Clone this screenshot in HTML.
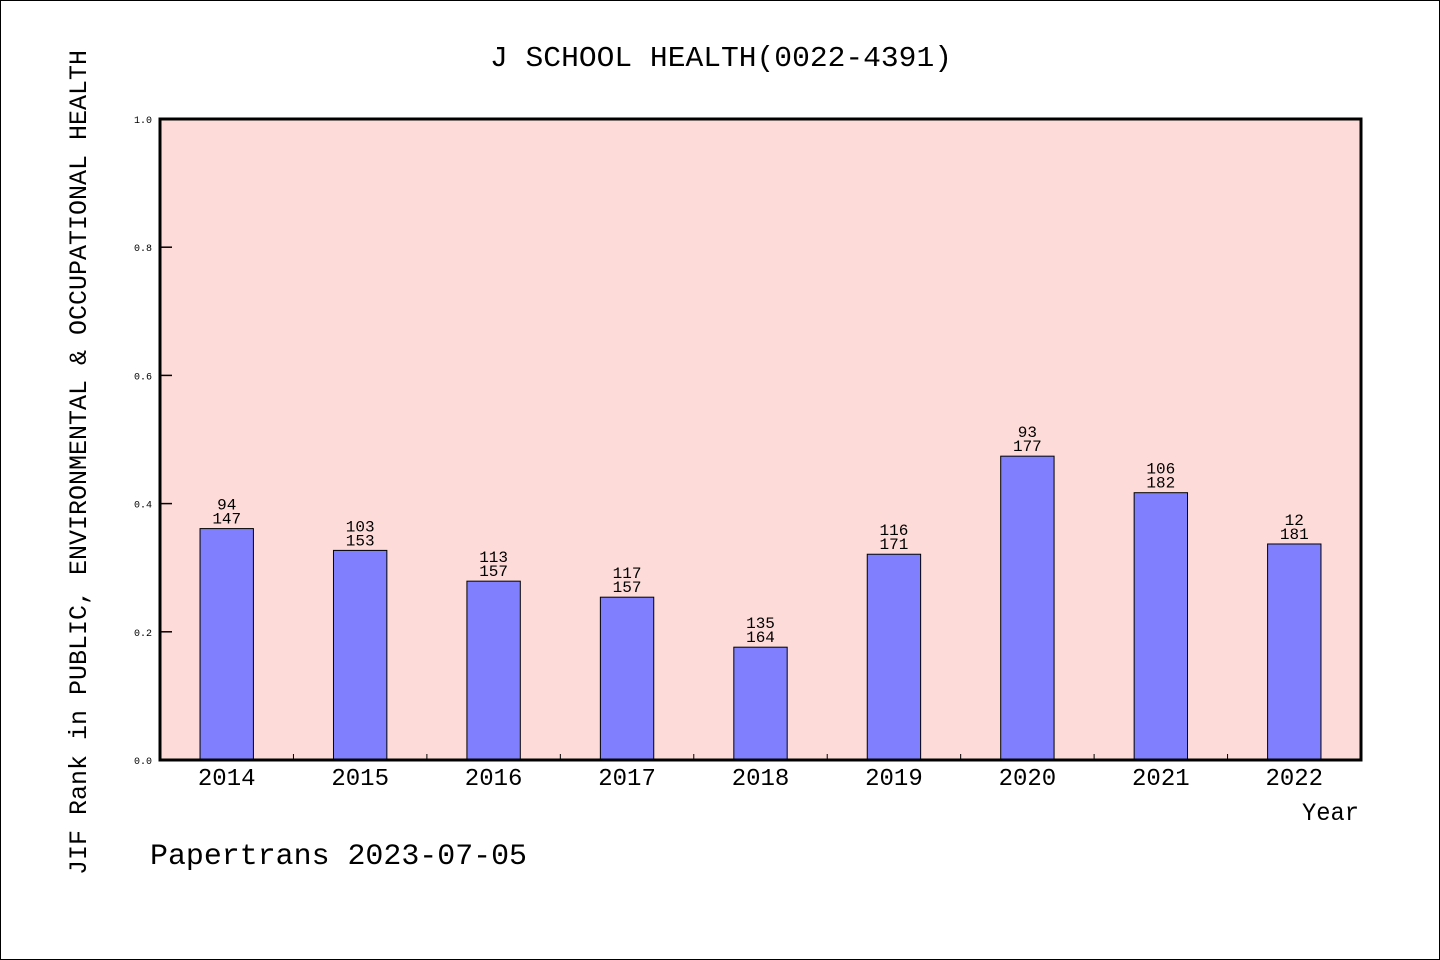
<!DOCTYPE html>
<html><head><meta charset="utf-8"><style>
html,body{margin:0;padding:0;background:#fff}
svg{display:block}
text{font-family:"Liberation Mono","WenQuanYi Zen Hei",monospace;fill:#000}
</style></head><body>
<svg id="chart" width="1440" height="960">
<rect x="0.5" y="0.5" width="1439" height="959" fill="#fff" stroke="#000"/>
<text x="490" y="66" font-size="29" textLength="462" lengthAdjust="spacingAndGlyphs">J SCHOOL HEALTH(0022-4391)</text>
<rect x="160" y="119" width="1201" height="641" fill="#fddbd8"/>
<g id="marks"></g>
<rect x="160" y="119" width="1201" height="641" fill="none" stroke="#000" stroke-width="3"/>
<text transform="translate(86,875) rotate(-90)" font-size="25" textLength="825" lengthAdjust="spacingAndGlyphs">JIF Rank in PUBLIC, ENVIRONMENTAL &amp; OCCUPATIONAL HEALTH</text>
<text x="1302" y="820" font-size="25" textLength="57" lengthAdjust="spacingAndGlyphs">Year</text>
<text x="150" y="864" font-size="30" textLength="377" lengthAdjust="spacingAndGlyphs">Papertrans 2023-07-05</text>
</svg>
<script>
const years=["2014","2015","2016","2017","2018","2019","2020","2021","2022"];
const values=[0.361,0.327,0.279,0.254,0.176,0.321,0.474,0.417,0.337];
const ranks=["94","103","113","117","135","116","93","106","12"];
const totals=["147","153","157","157","164","171","177","182","181"];
const yTicks=[0,0.2,0.4,0.6,0.8,1.0];
const X0=160,X1=1361,Y0=760,Y1=119;
const band=(X1-X0)/years.length;
const xc=i=>X0+band*(i+0.5);
const y=v=>Y0-(Y0-Y1)*v;
const NS="http://www.w3.org/2000/svg";
const g=document.getElementById('marks');
function mk(t,a){const e=document.createElementNS(NS,t);for(const k in a)e.setAttribute(k,a[k]);g.appendChild(e);return e;}
yTicks.forEach(v=>{
  const l=mk('line',{x1:X0,x2:X0+12,y1:y(v),y2:y(v),stroke:'#000','stroke-width':1.5});
  
  
  const t=mk('text',{x:152,y:y(v)+4,'font-size':10,'text-anchor':'end'});
  t.textContent=v.toFixed(1);
  
  
});
for(let i=1;i<years.length;i++){
  const l=mk('line',{x1:X0+band*i,x2:X0+band*i,y1:Y0,y2:Y0-6,stroke:'#000','stroke-width':1});
  
  
}
years.forEach((yr,i)=>{
  const w=band*0.4;
  const r=mk('rect',{x:xc(i)-w/2,y:y(values[i]),width:w,height:Y0-y(values[i]),fill:'#8080ff',stroke:'#000','stroke-width':1});
  
  
  const t1=mk('text',{x:xc(i),y:y(values[i])-19,'font-size':16,'text-anchor':'middle'});
  t1.textContent=ranks[i];
  
  
  const t2=mk('text',{x:xc(i),y:y(values[i])-5,'font-size':16,'text-anchor':'middle'});
  t2.textContent=totals[i];
  
  
  const t3=mk('text',{x:xc(i),y:785,'font-size':24,'text-anchor':'middle'});
  t3.textContent=yr;
  
  
});
</script>
</body></html>
